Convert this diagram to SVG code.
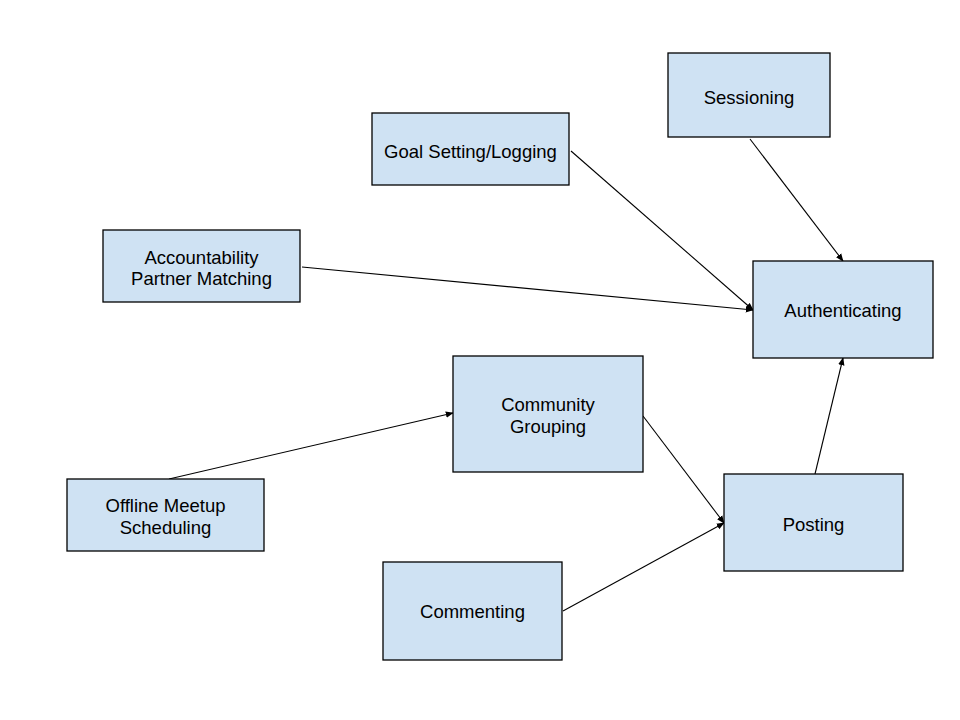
<svg xmlns="http://www.w3.org/2000/svg" width="960" height="720" viewBox="0 0 960 720">
<style>
.n rect{fill:#cfe2f3;stroke:#000;stroke-width:1.3}
.n text{font-family:"Liberation Sans",Arial,sans-serif;font-size:18.5px;fill:#000;text-anchor:middle}
.c line{stroke:#000;stroke-width:1.1;marker-end:url(#a)}
</style>
<defs>
<marker id="a" viewBox="0 0 10 10" refX="9" refY="5" markerWidth="8" markerHeight="8" markerUnits="userSpaceOnUse" orient="auto">
<path d="M0,1 L10,5 L0,9 z" fill="#000"/>
</marker>
</defs>
<rect width="960" height="720" fill="#fff"/>
<g class="c">
<line x1="750" y1="139" x2="843" y2="261"/>
<line x1="571" y1="151" x2="753" y2="310"/>
<line x1="302" y1="267" x2="753" y2="310"/>
<line x1="169" y1="479" x2="453" y2="413"/>
<line x1="643" y1="416" x2="724" y2="523"/>
<line x1="563" y1="611" x2="724" y2="523"/>
<line x1="815" y1="474" x2="843" y2="358"/>
</g>
<g class="n" id="sessioning"><rect x="668" y="53" width="162" height="84"/><text x="749" y="103.5">Sessioning</text></g>
<g class="n" id="goal"><rect x="372" y="113" width="197" height="72"/><text x="470.5" y="157.5">Goal Setting/Logging</text></g>
<g class="n" id="accountability"><rect x="103" y="230" width="197" height="72"/><text x="201.5" y="263.5">Accountability</text><text x="201.5" y="284.5">Partner Matching</text></g>
<g class="n" id="authenticating"><rect x="753" y="261" width="180" height="97"/><text x="843" y="316.5">Authenticating</text></g>
<g class="n" id="community"><rect x="453" y="356" width="190" height="116"/><text x="548" y="410.5">Community</text><text x="548" y="432.5">Grouping</text></g>
<g class="n" id="offline"><rect x="67" y="479" width="197" height="72"/><text x="165.5" y="511.5">Offline Meetup</text><text x="165.5" y="533.5">Scheduling</text></g>
<g class="n" id="commenting"><rect x="383" y="562" width="179" height="98"/><text x="472.5" y="617.5">Commenting</text></g>
<g class="n" id="posting"><rect x="724" y="474" width="179" height="97"/><text x="813.5" y="530.5">Posting</text></g>
</svg>
